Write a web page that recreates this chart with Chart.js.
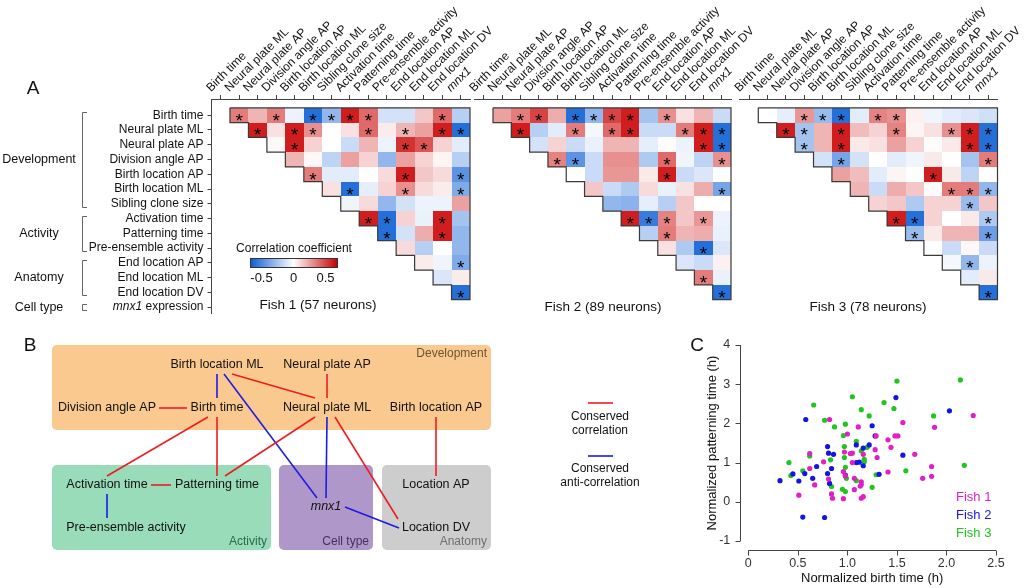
<!DOCTYPE html>
<html>
<head>
<meta charset="utf-8">
<script src="https://cdn.jsdelivr.net/npm/chart.js@4/dist/chart.umd.min.js"></script>
<style>
html, body { margin: 0; padding: 0; background: #fff; }
#page { position: relative; width: 1032px; height: 588px; overflow: hidden; font-family: 'Liberation Sans', Arial, sans-serif; }
canvas { position: absolute; }
.t { position: absolute; white-space: nowrap; line-height: 1; color: #111; }
</style>
</head>
<body>
<div id="page">
  <canvas id="fish1" width="520" height="325" style="left:0px;top:0px"></canvas>
  <canvas id="fish2" width="330" height="325" style="left:455px;top:0px"></canvas>
  <canvas id="fish3" width="312" height="325" style="left:720px;top:0px"></canvas>
  <canvas id="cbar" width="110" height="40" style="left:240px;top:250px"></canvas>
  <canvas id="diagram" width="660" height="258" style="left:0px;top:330px"></canvas>
  <canvas id="scatterC" width="352" height="258" style="left:680px;top:330px"></canvas>
</div>
<script>
// ---------- panel A: correlation matrices ----------
var rowLabels = ['Birth time', 'Neural plate ML', 'Neural plate AP', 'Division angle AP', 'Birth location AP',
  'Birth location ML', 'Sibling clone size', 'Activation time', 'Patterning time', 'Pre-ensemble activity',
  'End location AP', 'End location ML', 'End location DV', 'mnx1 expression'];
var colLabels = ['Birth time', 'Neural plate ML', 'Neural plate AP', 'Division angle AP', 'Birth location AP',
  'Birth location ML', 'Sibling clone size', 'Activation time', 'Patterning time', 'Pre-ensemble activity',
  'End location AP', 'End location ML', 'End location DV', 'mnx1'];
var groupNames = ['Development', 'Activity', 'Anatomy', 'Cell type'];
var groupFirst = [1, 8, 11, 14];
var groupLast = [7, 10, 13, 14];

// row r holds the correlations with columns r+1 .. 14
var fish1Corr = [
  [0.35, 0.2, 0.35, -0.05, -0.6, -0.3, 0.6, 0.4, -0.12, -0.12, 0.15, 0.4, -0.2],
  [0.6, 0.08, 0.6, 0.3, 0.0, 0.08, 0.4, 0.05, 0.2, 0.25, 0.6, -0.6],
  [0.02, 0.6, 0.12, 0.0, -0.15, 0.2, -0.05, 0.55, 0.45, 0.12, -0.08],
  [0.2, 0.02, -0.18, 0.25, 0.12, -0.3, 0.25, 0.12, 0.03, -0.2],
  [0.35, -0.08, -0.08, 0.0, 0.1, 0.6, 0.15, 0.1, -0.45],
  [0.08, -0.6, -0.07, 0.12, 0.3, 0.1, 0.05, -0.35],
  [-0.04, 0.1, -0.3, -0.12, -0.05, -0.05, 0.25],
  [0.6, -0.6, 0.12, -0.06, 0.6, -0.25],
  [-0.6, -0.12, 0.22, 0.6, -0.3],
  [0.1, -0.2, 0.0, -0.3],
  [0.05, -0.04, -0.35],
  [-0.1, 0.05],
  [-0.6]
];
var fish1Sig = ['*.*.****...*.', '*.**..*.*.**', '.*.....**..', '..........', '*....*..*',
  '.*..*..*', '.......', '**..*.', '*..*.', '....', '..*', '..', '*'];

var fish2Corr = [
  [0.25, 0.35, 0.5, 0.22, -0.6, -0.3, 0.5, 0.6, -0.25, 0.3, 0.08, 0.2, -0.15],
  [0.6, -0.2, -0.08, 0.35, -0.03, 0.4, 0.6, -0.15, -0.15, 0.35, 0.6, -0.6],
  [-0.12, 0.12, -0.15, -0.06, 0.2, 0.2, -0.07, 0.01, -0.05, 0.6, -0.6],
  [0.33, -0.45, -0.15, 0.3, 0.3, -0.22, 0.4, -0.04, -0.18, 0.3],
  [0.0, -0.15, 0.28, 0.28, 0.06, 0.6, -0.15, -0.1, 0.0],
  [0.15, -0.15, -0.22, 0.1, -0.06, 0.08, 0.22, -0.38],
  [-0.3, -0.32, -0.07, -0.2, 0.15, 0.0, 0.0],
  [0.6, -0.55, 0.33, 0.15, 0.28, -0.05],
  [-0.2, 0.35, 0.2, 0.22, -0.06],
  [0.08, -0.22, -0.6, -0.1],
  [-0.1, -0.15, 0.04],
  [0.35, -0.06],
  [-0.6]
];
var fish2Sig = ['.**.****.*...', '*..*.**..***', '.........**', '**....*..*', '.....*...',
  '.......*', '.......', '***.*.', '.*...', '..*.', '...', '*.', '*'];

var fish3Corr = [
  [0.0, -0.07, 0.28, -0.28, -0.6, -0.08, 0.33, 0.3, 0.04, -0.04, -0.08, -0.1, -0.13],
  [0.6, -0.25, 0.2, 0.6, 0.18, 0.12, 0.33, 0.03, 0.08, 0.3, 0.6, -0.6],
  [-0.25, 0.2, 0.6, 0.06, 0.08, 0.25, 0.12, 0.01, 0.06, 0.6, -0.6],
  [-0.12, -0.38, -0.12, 0.0, -0.08, -0.04, 0.06, 0.0, -0.25, 0.35],
  [0.25, 0.18, -0.08, 0.03, 0.0, 0.6, 0.06, -0.18, 0.0],
  [0.2, -0.15, 0.22, 0.15, 0.01, 0.35, 0.35, -0.3],
  [0.12, 0.15, -0.22, 0.12, 0.12, -0.28, 0.15],
  [0.6, -0.6, 0.12, 0.0, 0.06, -0.22],
  [-0.28, 0.06, 0.2, 0.2, -0.4],
  [0.0, -0.15, 0.02, -0.15],
  [-0.03, -0.3, -0.05],
  [-0.08, 0.06],
  [-0.6]
];
var fish3Sig = ['..***.**.....', '**.*..*..***', '*.*......**', '.*.......*', '.....*...',
  '.....***', '.....*.', '**...*', '*...*', '....', '.*.', '..', '*'];

var fishTitles = ['Fish 1 (57 neurons)', 'Fish 2 (89 neurons)', 'Fish 3 (78 neurons)'];
var cbarTicks = [-0.5, 0, 0.5];

// ---------- panel B: conserved relations ----------
var nodeNames = ['Birth location ML', 'Neural plate AP', 'Division angle AP', 'Birth time', 'Neural plate ML',
  'Birth location AP', 'Activation time', 'Patterning time', 'Pre-ensemble activity', 'mnx1', 'Location AP', 'Location DV'];
var nodeX = [217, 327, 107, 217, 327, 436, 107, 217, 126, 326, 436, 436];
var nodeY = [365, 365, 408, 408, 408, 408, 485, 485, 528, 507, 485, 528];
// [from, to, kind, offset at start, offset at end]
var edges = [
  ['Division angle AP', 'Birth time', 'pos', [52, 0], [-30, 0]],
  ['Birth location ML', 'Neural plate ML', 'pos', [15, 9], [-12, -10]],
  ['Neural plate AP', 'Neural plate ML', 'pos', [0, 9], [0, -10]],
  ['Birth time', 'Activation time', 'pos', [-9, 9], [0, -9]],
  ['Birth time', 'Patterning time', 'pos', [0, 9], [0, -9]],
  ['Neural plate ML', 'Patterning time', 'pos', [-12, 9], [8, -9]],
  ['Neural plate ML', 'Location DV', 'pos', [8, 9], [-38, -9]],
  ['Birth location AP', 'Location AP', 'pos', [0, 9], [0, -9]],
  ['Activation time', 'Patterning time', 'pos', [44, 0], [-46, 0]],
  ['Birth location ML', 'Birth time', 'neg', [0, 9], [0, -10]],
  ['Birth location ML', 'mnx1', 'neg', [7, 9], [-9, -9]],
  ['Neural plate ML', 'mnx1', 'neg', [0, 9], [0, -9]],
  ['mnx1', 'Location DV', 'neg', [19, 0], [-37, 0]],
  ['Activation time', 'Pre-ensemble activity', 'neg', [0, 9], [-19, -10]]
];
var boxNames = ['Development', 'Activity', 'Cell type', 'Anatomy'];
var boxX0 = [52, 52, 279, 382];
var boxX1 = [491, 271, 373, 491];
var boxY0 = [345, 465, 465, 465];
var boxY1 = [430, 550, 550, 550];
var boxFill = ['#f9c98f', '#98dcba', '#b097c9', '#cdcdcd'];
var boxInk = ['#6e5433', '#2b6a4b', '#45305f', '#707070'];

// ---------- panel C: birth time vs patterning time ----------
var fish1X = [2.27, 1.56, 0.82, 1.00, 1.11, 1.29, 1.48, 1.51, 1.88, 1.41, 1.44, 1.28, 1.30, 1.16, 1.03, 1.05, 0.97,
  0.62, 1.68, 1.05, 0.76, 0.62, 0.81, 0.96, 0.98, 1.07, 1.14, 1.14, 1.13, 1.07, 0.67, 0.51, 0.84, 0.85, 0.96, 1.14,
  1.16, 1.41, 1.76, 1.85, 1.85];
var fish1Y = [2.20, 2.02, 2.10, 1.73, 1.91, 1.68, 1.68, 1.68, 1.90, 1.58, 1.39, 1.33, 1.13, 1.21, 1.23, 1.24, 1.27,
  1.23, 1.21, 1.00, 1.02, 0.85, 0.58, 0.77, 0.66, 0.60, 0.51, 0.44, 0.40, 0.31, 0.43, 0.17, 0.20, 0.09, 0.08, 0.09,
  0.13, 0.76, 0.60, 0.90, 0.65];
var fish2X = [1.49, 2.03, 0.58, 1.25, 1.28, 1.22, 1.09, 1.16, 0.80, 0.81, 0.86, 1.56, 1.09, 1.12, 1.16, 0.84, 0.69,
  0.80, 0.57, 0.45, 0.65, 0.32, 0.51, 0.82, 0.98, 1.32, 0.55, 0.77];
var fish2Y = [2.66, 2.32, 2.10, 1.94, 1.68, 1.45, 1.45, 1.37, 1.41, 1.24, 1.21, 1.19, 1.00, 1.01, 0.92, 0.85, 0.90,
  0.72, 0.72, 0.71, 0.60, 0.54, 0.53, 0.47, 0.68, 0.70, -0.39, -0.40];
var fish3X = [2.14, 1.50, 1.05, 0.66, 1.37, 1.47, 1.14, 1.22, 1.87, 0.77, 0.98, 0.87, 0.96, 1.09, 0.97, 1.14, 1.20,
  0.62, 0.97, 0.83, 1.17, 1.17, 0.41, 0.98, 2.18, 0.55, 1.59, 0.43, 1.29, 1.09, 0.99, 0.84, 1.25, 0.95, 0.98];
var fish3Y = [3.11, 3.08, 2.68, 2.47, 2.53, 2.38, 2.35, 2.19, 2.19, 2.08, 1.98, 1.91, 1.69, 1.54, 1.41, 1.30, 1.39,
  1.17, 1.13, 1.07, 1.08, 1.02, 1.00, 0.88, 0.93, 0.79, 0.79, 0.67, 0.69, 0.54, 0.60, 0.39, 0.37, 0.32, 0.26];

var FONT = "'Liberation Sans', Arial, sans-serif";
var CLIM = 0.68;
Chart.defaults.font.family = FONT;
Chart.defaults.color = '#111';

var page = document.getElementById('page');

function addText(txt, x, y, size, opt) {
  opt = opt || {};
  var d = document.createElement('div');
  d.className = 't';
  d.innerHTML = txt;
  d.style.left = x + 'px';
  d.style.top = y + 'px';
  d.style.fontSize = size + 'px';
  var tx = opt.align === 'right' ? '-100%' : (opt.align === 'left' ? '0' : '-50%');
  d.style.transform = 'translate(' + tx + ', -50%)';
  if (opt.color) d.style.color = opt.color;
  page.appendChild(d);
}

// blue - white - red
function corrColor(v) {
  var t = Math.max(-1, Math.min(1, v / CLIM));
  var end = t < 0 ? [8, 92, 212] : [202, 0, 0];
  var a = Math.abs(t);
  var c = end.map(function (e) { return Math.round(255 + (e - 255) * a); });
  return 'rgb(' + c[0] + ',' + c[1] + ',' + c[2] + ')';
}

function buildCells(vals, sig) {
  var cells = [];
  vals.forEach(function (row, r) {
    row.forEach(function (v, k) {
      cells.push({ x: r + 2 + k, y: r + 1, v: v, s: sig[r].charAt(k) === '*' });
    });
  });
  return cells;
}

function zeroPad(s) {
  s.paddingLeft = 0; s.paddingRight = 0; s.paddingTop = 0; s.paddingBottom = 0;
}

// cells, asterisks and the staircase outline
var cellPlugin = {
  id: 'cells',
  afterDatasetsDraw: function (chart) {
    var ctx = chart.ctx, x = chart.scales.x, y = chart.scales.y;
    var cells = chart.data.datasets[0].data;
    ctx.save();
    cells.forEach(function (c) {
      var l = Math.round(x.getPixelForValue(c.x - 0.5)), r = Math.round(x.getPixelForValue(c.x + 0.5));
      var t = Math.round(y.getPixelForValue(c.y - 0.5)), b = Math.round(y.getPixelForValue(c.y + 0.5));
      ctx.fillStyle = corrColor(c.v);
      ctx.fillRect(l, t, r - l, b - t);
    });
    ctx.fillStyle = '#000';
    ctx.font = '19px ' + FONT;
    ctx.textAlign = 'center';
    ctx.textBaseline = 'alphabetic';
    cells.forEach(function (c) {
      if (!c.s) return;
      ctx.fillText('*', x.getPixelForValue(c.x), y.getPixelForValue(c.y) + 11.5);
    });
    // outline: top, right and the steps
    var n = colLabels.length;
    ctx.strokeStyle = '#3a3a3a';
    ctx.lineWidth = 1.2;
    ctx.beginPath();
    ctx.moveTo(x.getPixelForValue(1.5), y.getPixelForValue(0.5));
    ctx.lineTo(x.getPixelForValue(n + 0.5), y.getPixelForValue(0.5));
    ctx.lineTo(x.getPixelForValue(n + 0.5), y.getPixelForValue(n - 0.5));
    for (var r = n - 1; r >= 1; r--) {
      ctx.lineTo(x.getPixelForValue(r + 0.5), y.getPixelForValue(r + 0.5));
      ctx.lineTo(x.getPixelForValue(r + 0.5), y.getPixelForValue(r - 0.5));
    }
    ctx.stroke();
    ctx.restore();
  }
};

// group brackets and the mixed-style last row label (fish 1 only)
var groupPlugin = {
  id: 'groups',
  afterDraw: function (chart) {
    var ctx = chart.ctx, y = chart.scales.y;
    ctx.save();
    ctx.strokeStyle = '#666';
    ctx.lineWidth = 1;
    ctx.fillStyle = '#111';
    ctx.textBaseline = 'middle';
    groupNames.forEach(function (g, i) {
      var top = Math.round(y.getPixelForValue(groupFirst[i]) - 3) + 0.5;
      var bot = Math.round(y.getPixelForValue(groupLast[i]) + 3) + 0.5;
      ctx.beginPath();
      ctx.moveTo(87, top); ctx.lineTo(82.5, top); ctx.lineTo(82.5, bot); ctx.lineTo(87, bot);
      ctx.stroke();
      ctx.font = '12.5px ' + FONT;
      ctx.textAlign = 'center';
      ctx.fillText(g, 39, (y.getPixelForValue(groupFirst[i]) + y.getPixelForValue(groupLast[i])) / 2);
    });
    // "mnx1 expression"
    var yy = y.getPixelForValue(14);
    var right = chart.chartArea.left - 8;
    ctx.textAlign = 'left';
    ctx.font = '12px ' + FONT;
    var w2 = ctx.measureText(' expression').width;
    ctx.font = 'italic 12px ' + FONT;
    var w1 = ctx.measureText('mnx1').width;
    ctx.fillText('mnx1', right - w1 - w2, yy);
    ctx.font = '12px ' + FONT;
    ctx.fillText(' expression', right - w2, yy);
    ctx.restore();
  }
};

function makeHeatmap(id, vals, sig, withRows, pad) {
  return new Chart(document.getElementById(id), {
    type: 'scatter',
    data: { datasets: [{ data: buildCells(vals, sig), pointRadius: 0 }] },
    options: {
      responsive: false,
      animation: false,
      events: [],
      layout: { padding: pad },
      plugins: { legend: { display: false }, tooltip: { enabled: false } },
      scales: {
        x: {
          type: 'linear', position: 'top', min: 0.5, max: 14.5,
          afterBuildTicks: function (s) { s.ticks = colLabels.map(function (_, i) { return { value: i + 1 }; }); },
          afterFit: function (s) { s.height = 99; zeroPad(s); },
          ticks: {
            autoSkip: false, minRotation: 45, maxRotation: 45, padding: 0, labelOffset: -2, color: '#111',
            font: function (c) { return { family: FONT, size: 12, style: c.index === 13 ? 'italic' : 'normal' }; },
            callback: function (v) { return colLabels[v - 1]; }
          },
          grid: { drawOnChartArea: false, drawTicks: true, tickLength: 4, color: '#444' },
          border: { display: true, color: '#444' }
        },
        y: {
          type: 'linear', display: withRows, reverse: true, min: -0.1, max: 14.4,
          afterBuildTicks: function (s) { s.ticks = rowLabels.map(function (_, i) { return { value: i + 1 }; }); },
          afterFit: function (s) { s.width = withRows ? 211.5 : 0; zeroPad(s); },
          ticks: {
            autoSkip: false, padding: 4, color: '#111', font: { size: 12 },
            callback: function (v) { return v === 14 ? '' : rowLabels[v - 1]; }
          },
          grid: { drawOnChartArea: false, drawTicks: true, tickLength: 4, color: '#444' },
          border: { display: true, color: '#444' }
        }
      }
    },
    plugins: withRows ? [cellPlugin, groupPlugin] : [cellPlugin]
  });
}

makeHeatmap('fish1', fish1Corr, fish1Sig, true, { left: 0, right: 50, top: 0, bottom: 12 });
makeHeatmap('fish2', fish2Corr, fish2Sig, false, { left: 19.7, right: 54, top: 0, bottom: 12 });
makeHeatmap('fish3', fish3Corr, fish3Sig, false, { left: 19.9, right: 34.5, top: 0, bottom: 12 });

// colour bar
var gradientPlugin = {
  id: 'gradient',
  beforeDatasetsDraw: function (chart) {
    var ctx = chart.ctx, a = chart.chartArea, x = chart.scales.x;
    var g = ctx.createLinearGradient(x.getPixelForValue(-CLIM), 0, x.getPixelForValue(CLIM), 0);
    for (var i = 0; i <= 20; i++) {
      g.addColorStop(i / 20, corrColor(-CLIM + 2 * CLIM * i / 20));
    }
    ctx.save();
    ctx.fillStyle = g;
    ctx.fillRect(a.left, a.top, a.right - a.left, a.bottom - a.top);
    ctx.strokeStyle = '#333';
    ctx.lineWidth = 1;
    ctx.strokeRect(Math.round(a.left) + 0.5, Math.round(a.top) + 0.5, Math.round(a.right - a.left), Math.round(a.bottom - a.top));
    ctx.restore();
  }
};

new Chart(document.getElementById('cbar'), {
  type: 'scatter',
  data: { datasets: [{ data: [], pointRadius: 0 }] },
  options: {
    responsive: false, animation: false, events: [],
    layout: { padding: { left: 10, right: 13, top: 8, bottom: 0 } },
    plugins: { legend: { display: false }, tooltip: { enabled: false } },
    scales: {
      x: {
        type: 'linear', min: -CLIM, max: CLIM,
        afterBuildTicks: function (s) { s.ticks = cbarTicks.map(function (v) { return { value: v }; }); },
        afterFit: function (s) { s.height = 23; zeroPad(s); },
        ticks: { padding: 4, color: '#111', font: { size: 13 }, callback: function (v) { return String(v); } },
        grid: { display: false, drawTicks: false },
        border: { display: false }
      },
      y: { display: false, min: 0, max: 1 }
    }
  },
  plugins: [gradientPlugin]
});

// ---------- panel B ----------
function nodeAt(name) {
  var i = nodeNames.indexOf(name);
  return { x: nodeX[i], y: nodeY[i] };
}
var edgeColor = { pos: '#ee1c24', neg: '#1c1ce6' };
var edgeSets = edges.map(function (e) {
  var a = nodeAt(e[0]), b = nodeAt(e[1]);
  return {
    data: [{ x: a.x + e[3][0], y: a.y + e[3][1] }, { x: b.x + e[4][0], y: b.y + e[4][1] }],
    showLine: true, borderColor: edgeColor[e[2]], borderWidth: 1.6, pointRadius: 0
  };
});
var legendKinds = ['pos', 'neg'];
var legendText = [['Conserved', 'correlation'], ['Conserved', 'anti-correlation']];
legendKinds.forEach(function (k, i) {
  edgeSets.push({
    data: [{ x: 588, y: 403 + i * 53 }, { x: 613, y: 403 + i * 53 }],
    showLine: true, borderColor: edgeColor[k], borderWidth: 1.6, pointRadius: 0
  });
});

var diagramPlugin = {
  id: 'diagram',
  beforeDatasetsDraw: function (chart) {
    var ctx = chart.ctx, x = chart.scales.x, y = chart.scales.y;
    ctx.save();
    boxNames.forEach(function (b, i) {
      var l = x.getPixelForValue(boxX0[i]), r = x.getPixelForValue(boxX1[i]);
      var t = y.getPixelForValue(boxY0[i]), bt = y.getPixelForValue(boxY1[i]);
      ctx.fillStyle = boxFill[i];
      ctx.beginPath();
      ctx.roundRect(l, t, r - l, bt - t, 5);
      ctx.fill();
      ctx.fillStyle = boxInk[i];
      ctx.font = '12px ' + FONT;
      ctx.textAlign = 'right';
      ctx.textBaseline = 'middle';
      var ty = i === 0 ? t + 9 : bt - 8;
      ctx.fillText(b, r - 4, ty);
    });
    ctx.restore();
  },
  afterDatasetsDraw: function (chart) {
    var ctx = chart.ctx, x = chart.scales.x, y = chart.scales.y;
    ctx.save();
    ctx.fillStyle = '#111';
    ctx.textAlign = 'center';
    ctx.textBaseline = 'middle';
    nodeNames.forEach(function (n, i) {
      ctx.font = (n === 'mnx1' ? 'italic ' : '') + '12.5px ' + FONT;
      ctx.fillText(n, x.getPixelForValue(nodeX[i]), y.getPixelForValue(nodeY[i]));
    });
    ctx.font = '12px ' + FONT;
    legendText.forEach(function (lines, i) {
      lines.forEach(function (s, j) {
        ctx.fillText(s, x.getPixelForValue(600), y.getPixelForValue(417 + i * 52 + j * 14));
      });
    });
    ctx.restore();
  }
};

new Chart(document.getElementById('diagram'), {
  type: 'scatter',
  data: { datasets: edgeSets },
  options: {
    responsive: false, animation: false, events: [],
    layout: { padding: 0 },
    plugins: { legend: { display: false }, tooltip: { enabled: false } },
    scales: {
      x: { type: 'linear', display: false, min: 0, max: 660 },
      y: { type: 'linear', display: false, min: 330, max: 588, reverse: true }
    }
  },
  plugins: [diagramPlugin]
});

// ---------- panel C ----------
function pairs(xs, ys) {
  return xs.map(function (v, i) { return { x: v, y: ys[i] }; });
}

var offsetAxes = {
  id: 'offsetAxes',
  afterDraw: function (chart) {
    var ctx = chart.ctx, a = chart.chartArea, x = chart.scales.x, y = chart.scales.y;
    var xl = Math.round(a.left - 8) + 0.5, yb = Math.round(a.bottom + 9) + 0.5;
    ctx.save();
    ctx.strokeStyle = '#444';
    ctx.lineWidth = 1;
    ctx.beginPath();
    ctx.moveTo(xl, y.getPixelForValue(y.max));
    ctx.lineTo(xl, y.getPixelForValue(y.min));
    y.ticks.forEach(function (t) {
      var p = Math.round(y.getPixelForValue(t.value)) + 0.5;
      ctx.moveTo(xl - 5, p); ctx.lineTo(xl, p);
    });
    ctx.moveTo(x.getPixelForValue(x.min), yb);
    ctx.lineTo(x.getPixelForValue(x.max), yb);
    x.ticks.forEach(function (t) {
      var p = Math.round(x.getPixelForValue(t.value)) + 0.5;
      ctx.moveTo(p, yb); ctx.lineTo(p, yb + 5);
    });
    ctx.stroke();
    // legend text in series colours
    ctx.font = '13px ' + FONT;
    ctx.textAlign = 'left';
    ctx.textBaseline = 'middle';
    chart.data.datasets.forEach(function (d, i) {
      ctx.fillStyle = d.backgroundColor;
      ctx.fillText(d.label, a.right - 40, a.bottom - 44 + i * 18);
    });
    ctx.restore();
  }
};

new Chart(document.getElementById('scatterC'), {
  type: 'scatter',
  data: {
    datasets: [
      { label: 'Fish 1', data: pairs(fish1X, fish1Y), backgroundColor: '#e21ec6', pointRadius: 2.6, pointBorderWidth: 0 },
      { label: 'Fish 2', data: pairs(fish2X, fish2Y), backgroundColor: '#1414e4', pointRadius: 2.6, pointBorderWidth: 0 },
      { label: 'Fish 3', data: pairs(fish3X, fish3Y), backgroundColor: '#22c41e', pointRadius: 2.6, pointBorderWidth: 0 }
    ]
  },
  options: {
    responsive: false, animation: false, events: [],
    layout: { padding: { left: 0, right: 36, top: 15, bottom: 0 } },
    plugins: { legend: { display: false }, tooltip: { enabled: false } },
    scales: {
      x: {
        type: 'linear', min: 0, max: 2.5,
        afterFit: function (s) { s.height = 47; zeroPad(s); },
        ticks: { stepSize: 0.5, padding: 15, color: '#333', font: { size: 12.5 } },
        grid: { display: false, drawTicks: false },
        border: { display: false },
        title: { display: true, text: 'Normalized birth time (h)', font: { size: 13 }, color: '#111', padding: { top: 0, bottom: 2 } }
      },
      y: {
        type: 'linear', min: -1, max: 4,
        afterFit: function (s) { s.width = 68.3; zeroPad(s); },
        ticks: { stepSize: 1, padding: 18, color: '#333', font: { size: 12.5 } },
        grid: { display: false, drawTicks: false },
        border: { display: false },
        title: { display: true, text: 'Normalized patterning time (h)', font: { size: 13 }, color: '#111', padding: { top: 25, bottom: 0 } }
      }
    }
  },
  plugins: [offsetAxes]
});

// ---------- loose text ----------
addText('A', 33, 87, 19);
addText('B', 30, 344, 19);
addText('C', 697, 344, 19);
addText(fishTitles[0], 318, 305, 13.5);
addText(fishTitles[1], 603, 307, 13.5);
addText(fishTitles[2], 868, 307, 13.5);
addText('Correlation coefficient', 294, 248, 12);
</script>
</body>
</html>
